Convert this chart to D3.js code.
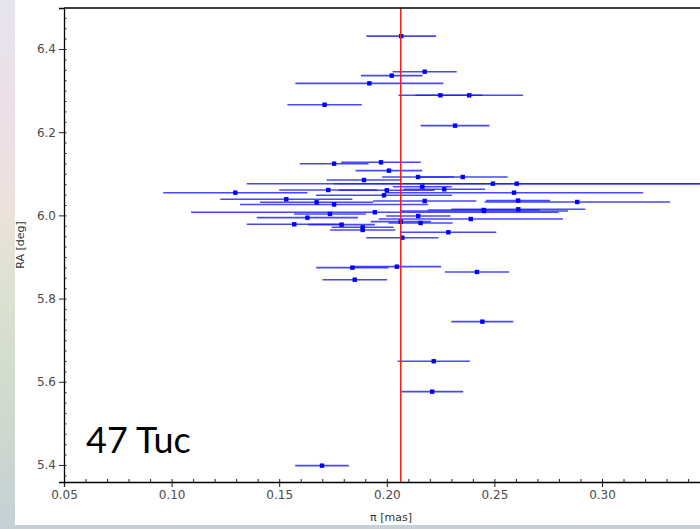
<!DOCTYPE html>
<meta charset="utf-8">
<title>47 Tuc parallax vs RA</title>
<style>
body { margin: 0; }
.tick text { font-family: "DejaVu Sans", sans-serif; font-size: 12px; fill: #4a4a4a; }
</style>
<script src="https://d3js.org/d3.v7.min.js"></script>
<body>
<script>
// parallax (mas), RA (deg) and the parallax error for each star
var piVals = [0.2067, 0.2176, 0.2023, 0.1919, 0.2249, 0.2383, 0.1711, 0.2317,
  0.1755, 0.1973, 0.2010, 0.2145, 0.2353, 0.1894, 0.2493, 0.2604, 0.2165, 0.2267,
  0.2000, 0.1728, 0.1296, 0.2591, 0.1987, 0.1533, 0.2610, 0.2176, 0.2885, 0.1674,
  0.1755, 0.2611, 0.2452, 0.1944, 0.1736, 0.2146, 0.1631, 0.2390, 0.2065, 0.2157,
  0.1570, 0.1790, 0.1888, 0.1888, 0.2286, 0.2072, 0.2450,
  0.2047, 0.1840, 0.2419, 0.1851, 0.2444, 0.2218, 0.2211, 0.1699];
var raVals = [6.431, 6.3455, 6.336, 6.3175, 6.2887, 6.2887, 6.266, 6.2157,
  6.1243, 6.1276, 6.1075, 6.0923, 6.0923, 6.0850, 6.0762, 6.0762, 6.0690, 6.0627,
  6.0603, 6.0610, 6.0546, 6.0546, 6.0483, 6.0387, 6.0356, 6.0346, 6.0322, 6.0315,
  6.0262, 6.0147, 6.0106, 6.0075, 6.0034, 5.9986, 5.9945, 5.9913, 5.9849, 5.9817,
  5.9786, 5.9777, 5.9714, 5.9649, 5.9594, 5.9464, 6.0130,
  5.8767, 5.8743, 5.8640, 5.8454, 5.7445, 5.6493, 5.5762, 5.3983];
var piErr = [0.0162, 0.0149, 0.0143, 0.0344, 0.0195, 0.0250, 0.0173, 0.0160,
  0.0160, 0.0185, 0.0155, 0.0167, 0.0209, 0.0174, 0.1144, 0.0850, 0.0137, 0.0190,
  0.0223, 0.0228, 0.0335, 0.0600, 0.0316, 0.0307, 0.0149, 0.0240, 0.0431, 0.0263,
  0.0437, 0.0311, 0.0390, 0.0854, 0.0167, 0.0149, 0.0235, 0.0428, 0.0140, 0.0149,
  0.0221, 0.0155, 0.0144, 0.0151, 0.0223, 0.0168, 0.0260,
  0.0205, 0.0168, 0.0149, 0.0150, 0.0144, 0.0168, 0.0144, 0.0125];
var meanPi = 0.2065;
var xTicks = [0.05, 0.10, 0.15, 0.20, 0.25, 0.30];
var yTicks = [5.4, 5.6, 5.8, 6.0, 6.2, 6.4];

var width = 700, height = 529;
var svg = d3.select("body").append("svg")
    .attr("width", width)
    .attr("height", height);

// slide background showing at the left and bottom edges
var grad = svg.append("defs").append("linearGradient")
    .attr("id", "bg").attr("x1", 0).attr("y1", 0).attr("x2", 0).attr("y2", 1);
[["0%", "#e6e4ee"], ["20%", "#eddfe8"], ["40%", "#ece2da"], ["58%", "#d9e1cf"],
 ["78%", "#cfdacd"], ["100%", "#c5d0d8"]].forEach(function(s) {
  grad.append("stop").attr("offset", s[0]).attr("stop-color", s[1]);
});
svg.append("rect").attr("width", width).attr("height", height).attr("fill", "url(#bg)");
svg.append("rect").attr("x", 15).attr("y", 0).attr("width", width - 15).attr("height", 525)
    .attr("fill", "#fff");

var x = d3.scaleLinear().domain([0.05, 0.3539]).range([64, 718]);
var y = d3.scaleLinear().domain([5.359, 6.4986]).range([482, 8]);

svg.append("clipPath").attr("id", "plotclip").append("rect")
    .attr("x", 64).attr("y", 8).attr("width", 654).attr("height", 474);

var plot = svg.append("g").attr("clip-path", "url(#plotclip)");

var idx = d3.range(piVals.length);

plot.selectAll("line.err")
    .data(idx)
  .enter().append("line")
    .attr("class", "err")
    .attr("x1", function(i) { return x(piVals[i] - piErr[i]); })
    .attr("x2", function(i) { return x(piVals[i] + piErr[i]); })
    .attr("y1", function(i) { return y(raVals[i]); })
    .attr("y2", function(i) { return y(raVals[i]); })
    .attr("stroke", "#1a1aff")
    .attr("stroke-opacity", 0.8)
    .attr("stroke-width", 1.6);

plot.selectAll("rect.pt")
    .data(idx)
  .enter().append("rect")
    .attr("class", "pt")
    .attr("x", function(i) { return x(piVals[i]) - 2.2; })
    .attr("y", function(i) { return y(raVals[i]) - 2.2; })
    .attr("width", 4.4)
    .attr("height", 4.4)
    .attr("fill", "#0000ff");

plot.append("line")
    .attr("x1", x(meanPi)).attr("x2", x(meanPi))
    .attr("y1", 8).attr("y2", 482)
    .attr("stroke", "#ee1c1c")
    .attr("stroke-width", 1.5);

// axes: major ticks outward, minor ticks inward
svg.append("g").attr("transform", "translate(0,482)")
    .call(d3.axisBottom(x).tickValues(xTicks).tickSize(5).tickPadding(3).tickFormat(d3.format(".2f")));
svg.append("g").attr("transform", "translate(0,482)")
    .call(d3.axisBottom(x).tickValues(d3.range(0.06, 0.355, 0.01)).tickSize(-3).tickFormat(""))
    .call(function(g) { g.select(".domain").remove(); });

svg.append("g").attr("transform", "translate(64,0)")
    .call(d3.axisLeft(y).tickValues(yTicks).tickSize(5).tickPadding(3).tickFormat(d3.format(".1f")));
svg.append("g").attr("transform", "translate(64,0)")
    .call(d3.axisLeft(y).tickValues(d3.range(5.375, 6.49, 0.025)).tickSize(-2.5).tickFormat(""))
    .call(function(g) { g.select(".domain").remove(); });

svg.selectAll(".domain").attr("stroke-width", 1.3);
svg.selectAll(".tick line").attr("stroke", "#222");

// frame top and right
svg.append("line").attr("x1", 64).attr("x2", 718).attr("y1", 8).attr("y2", 8)
    .attr("stroke", "#000").attr("stroke-width", 1.3);
svg.append("line").attr("x1", 718).attr("x2", 718).attr("y1", 8).attr("y2", 482)
    .attr("stroke", "#000").attr("stroke-width", 1.3);

svg.append("text")
    .attr("x", 391).attr("y", 521)
    .attr("text-anchor", "middle")
    .attr("font-family", "DejaVu Sans, sans-serif")
    .attr("font-size", 11)
    .attr("fill", "#333")
    .text("π [mas]");

svg.append("clipPath").attr("id", "ylabclip").append("rect")
    .attr("x", 15).attr("y", 0).attr("width", 40).attr("height", 525);
svg.append("g").attr("clip-path", "url(#ylabclip)")
  .append("text")
    .attr("transform", "translate(24,245) rotate(-90)")
    .attr("text-anchor", "middle")
    .attr("font-family", "DejaVu Sans, sans-serif")
    .attr("font-size", 11)
    .attr("fill", "#333")
    .text("RA [deg]");

svg.append("text")
    .attr("x", 86).attr("y", 453)
    .attr("font-family", "Lato, 'Open Sans', sans-serif")
    .attr("font-size", 36)
    .attr("fill", "#000")
    .text("47 Tuc");
</script>
</body>
